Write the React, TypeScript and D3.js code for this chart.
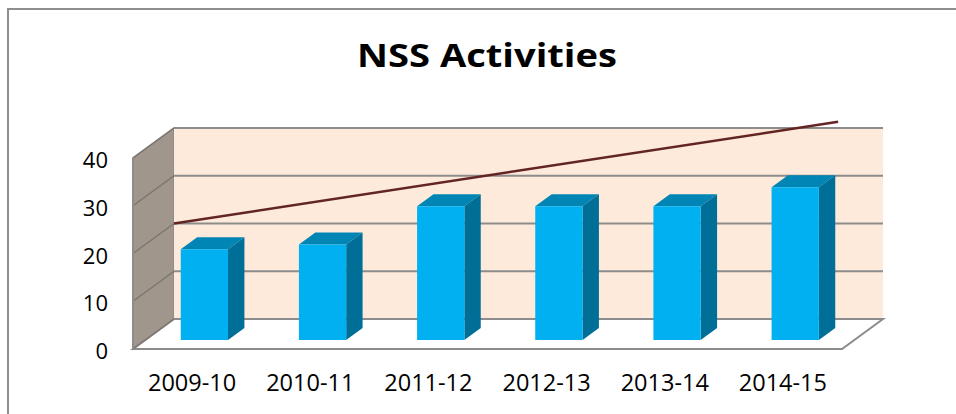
import React from "react";
import * as d3 from "d3";

const categories = ["2009-10", "2010-11", "2011-12", "2012-13", "2013-14", "2014-15"];
const values = [19, 20, 28, 28, 28, 32];
const yTicks = [0, 10, 20, 30, 40];
const trendPos = [0, 5.62];
const trendValues = [20, 41.3];
const title = "NSS Activities";

const W = 956;
const H = 414;
const FX0 = 133;
const FX1 = 842;
const FY0 = 349;
const FY1 = 158;
const DX = 41;
const DY = -30;

export default function App() {
  const x = d3.scaleBand<string>().domain(categories).range([FX0, FX1]);
  const y = d3.scaleLinear().domain([0, 40]).range([FY0, FY1]);
  const pos = d3.scaleLinear().domain([0, categories.length]).range([FX0, FX1]);
  const P = (fx: number, v: number, d: number): [number, number] => [fx + DX * d, y(v) + DY * d];
  const poly = (pts: [number, number][]) => pts.map((p) => p.join(",")).join(" ");

  const bw = x.bandwidth() * 0.4;
  const d1 = 0.3;
  const d2 = 0.7;

  const line = d3.line<[number, number]>();
  const trendPts: [number, number][] = trendPos.map((p, i) => P(pos(p), trendValues[i], 1));

  return (
    <svg width={W} height={H} style={{ position: "absolute", left: 0, top: 0, background: "#fff" }}>
      <rect x={8} y={9} width={W + 10} height={H + 10} fill="#fff" stroke="#8e8e8e" strokeWidth={2} />
      <text
        x={487}
        y={67}
        textAnchor="middle"
        fontFamily="Open Sans"
        fontWeight="bold"
        fontSize={33}
        textLength={260}
        lengthAdjust="spacingAndGlyphs"
        fill="#000"
      >
        {title}
      </text>
      {/* side wall */}
      <polygon
        points={poly([P(FX0, 0, 0), P(FX0, 0, 1), P(FX0, 40, 1), P(FX0, 40, 0)])}
        fill="#a0968c"
        stroke="#8a8a8a"
        strokeWidth={1.5}
      />
      {/* back wall */}
      <polygon
        points={poly([P(FX0, 0, 1), P(FX1, 0, 1), P(FX1, 40, 1), P(FX0, 40, 1)])}
        fill="#fdeada"
      />
      {/* floor */}
      <polygon
        points={poly([P(FX0, 0, 0), P(FX1, 0, 0), P(FX1, 0, 1), P(FX0, 0, 1)])}
        fill="#ffffff"
        stroke="#8c8c8c"
        strokeWidth={2}
      />
      {/* gridlines */}
      {yTicks.map((t) => {
        const a = P(FX0, t, 0);
        const b = P(FX0, t, 1);
        const c = P(FX1, t, 1);
        return (
          <g key={t}>
            <line x1={a[0]} y1={a[1]} x2={b[0]} y2={b[1]} stroke="#7d7570" strokeWidth={1.5} />
            <line x1={b[0]} y1={b[1]} x2={c[0]} y2={c[1]} stroke="#8c8c8c" strokeWidth={2} />
          </g>
        );
      })}
      <line x1={P(FX0, 0, 0)[0]} y1={P(FX0, 0, 0)[1]} x2={P(FX0, 40, 0)[0]} y2={P(FX0, 40, 0)[1]} stroke="#8c8c8c" strokeWidth={2} />
      {/* bars */}
      {categories.map((c, i) => {
        const v = values[i];
        const l = (x(c) as number) + (x.bandwidth() - bw) / 2;
        const r = l + bw;
        return (
          <g key={c}>
            <polygon points={poly([P(l, v, d1), P(r, v, d1), P(r, v, d2), P(l, v, d2)])} fill="#0085b4" />
            <polygon points={poly([P(r, 0, d1), P(r, 0, d2), P(r, v, d2), P(r, v, d1)])} fill="#006f98" />
            <polygon points={poly([P(l, 0, d1), P(r, 0, d1), P(r, v, d1), P(l, v, d1)])} fill="#00b0f0" />
          </g>
        );
      })}
      {/* trendline */}
      <path d={line(trendPts) || ""} stroke="#632523" strokeWidth={2.5} fill="none" />
      {/* y labels */}
      {yTicks.map((t) => (
        <text key={t} x={108} y={y(t) + 10} textAnchor="end" fontFamily="Open Sans" fontSize={22} fill="#000">
          {t}
        </text>
      ))}
      {/* x labels */}
      {categories.map((c) => (
        <text key={c} x={(x(c) as number) + x.bandwidth() / 2} y={391} textAnchor="middle" fontFamily="Open Sans" fontSize={23.5} fill="#000">
          {c}
        </text>
      ))}
    </svg>
  );
}
